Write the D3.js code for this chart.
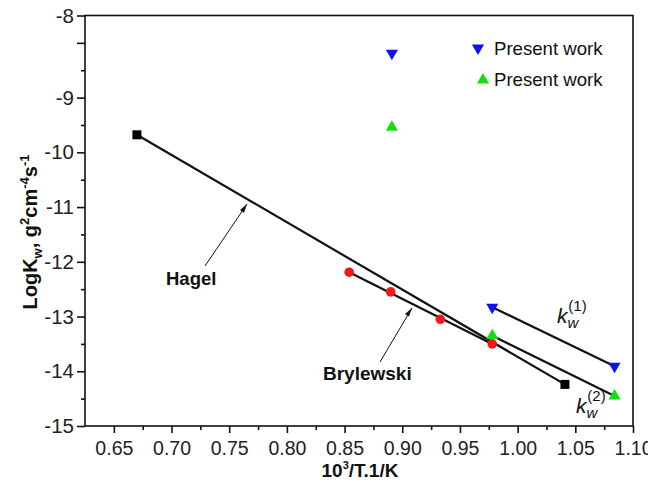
<!DOCTYPE html>
<html>
<head>
<meta charset="utf-8">
<script src="https://cdn.jsdelivr.net/npm/d3@7"></script>
<style>
  html, body { margin: 0; padding: 0; background: #fff; }
  svg { display: block; font-family: "Liberation Sans", Arial, sans-serif; }
</style>
</head>
<body>
<svg id="chart" width="648" height="487"></svg>
<script>
// Hagel (literature) line end points
const hagelX = [0.670, 1.041];
const hagelY = [-9.68, -14.24];

// Brylewski data
const brylX = [0.854, 0.890, 0.933, 0.978];
const brylY = [-12.19, -12.55, -13.05, -13.50];

// Present work, k_w(1) (blue, down triangles)
const k1X = [0.891, 0.978, 1.084];
const k1Y = [-8.19, -12.83, -13.91];

// Present work, k_w(2) (green, up triangles)
const k2X = [0.891, 0.978, 1.084];
const k2Y = [-9.54, -13.35, -14.45];

// points joined by the fitted k_w lines
const k1LineIdx = [1, 2];
const k2LineIdx = [1, 2];

// axis ticks
const xTickValues = [0.65, 0.70, 0.75, 0.80, 0.85, 0.90, 0.95, 1.00, 1.05, 1.10];
const xTickLabels = ["0.65", "0.70", "0.75", "0.80", "0.85", "0.90", "0.95", "1.00", "1.05", "1.10"];
const xMinorValues = [0.675, 0.725, 0.775, 0.825, 0.875, 0.925, 0.975, 1.025, 1.075];
const yTickValues = [-15, -14, -13, -12, -11, -10, -9, -8, -7.5];
const yTickLabels = ["-15", "-14", "-13", "-12", "-11", "-10", "-9", "", "-8"];
const yMinorValues = [-14.5, -13.5, -12.5, -11.5, -10.5, -9.5, -8.5];

const legendLabels = ["Present work", "Present work"];

const svg = d3.select("#chart");
const plotL = 85, plotR = 633, plotT = 15.5, plotB = 426;

const x = d3.scaleLinear().domain([0.625, 1.10]).range([plotL, plotR]);
const y = d3.scaleLinear().domain([-15, -7.5]).range([plotB, plotT]);

// frame
svg.append("rect")
  .attr("x", plotL).attr("y", plotT)
  .attr("width", plotR - plotL).attr("height", plotB - plotT)
  .attr("fill", "none").attr("stroke", "#111").attr("stroke-width", 1.6);

// bottom axis
const xAxis = d3.axisBottom(x).tickValues(xTickValues)
  .tickFormat((d, i) => xTickLabels[i]).tickSize(7).tickPadding(8);
const gx = svg.append("g").attr("transform", `translate(0,${plotB})`).call(xAxis);
gx.select(".domain").remove();
gx.selectAll(".tick line").attr("stroke", "#111").attr("stroke-width", 1.6);
gx.selectAll(".tick text").attr("font-size", 19.5).attr("fill", "#222")
  .attr("font-family", "Liberation Sans, Arial, sans-serif");
const gxm = svg.append("g").attr("transform", `translate(0,${plotB})`)
  .call(d3.axisBottom(x).tickValues(xMinorValues).tickSize(4).tickFormat(""));
gxm.select(".domain").remove();
gxm.selectAll(".tick line").attr("stroke", "#111").attr("stroke-width", 1.6);

// left axis
const yAxis = d3.axisLeft(y).tickValues(yTickValues)
  .tickFormat((d, i) => yTickLabels[i]).tickSize(8).tickPadding(3);
const gy = svg.append("g").attr("transform", `translate(${plotL},0)`).call(yAxis);
gy.select(".domain").remove();
gy.selectAll(".tick line").attr("stroke", "#111").attr("stroke-width", 1.6);
gy.selectAll(".tick text").attr("font-size", 20.5).attr("fill", "#222")
  .attr("font-family", "Liberation Sans, Arial, sans-serif");
const gym = svg.append("g").attr("transform", `translate(${plotL},0)`)
  .call(d3.axisLeft(y).tickValues(yMinorValues).tickSize(4).tickFormat(""));
gym.select(".domain").remove();
gym.selectAll(".tick line").attr("stroke", "#111").attr("stroke-width", 1.6);

// axis titles
const xt = svg.append("text").attr("x", 360).attr("y", 477)
  .attr("text-anchor", "middle").attr("font-size", 19).attr("font-weight", "bold").attr("fill", "#111");
xt.append("tspan").text("10");
xt.append("tspan").attr("font-size", 11).attr("dy", -8).text("3");
xt.append("tspan").attr("dy", 8).text("/T.1/K");

const yt = svg.append("text")
  .attr("transform", "translate(37,232) rotate(-90)")
  .attr("text-anchor", "middle").attr("font-size", 20).attr("font-weight", "bold").attr("fill", "#111");
yt.append("tspan").text("LogK");
yt.append("tspan").attr("font-size", 13).attr("dy", 5).text("w");
yt.append("tspan").attr("dy", -5).text(", g");
yt.append("tspan").attr("font-size", 13).attr("dy", -8).text("2");
yt.append("tspan").attr("dy", 8).text("cm");
yt.append("tspan").attr("font-size", 13).attr("dy", -8).text("-4");
yt.append("tspan").attr("dy", 8).text("s");
yt.append("tspan").attr("font-size", 13).attr("dy", -8).text("-1");

// lines
const line = d3.line().x(d => x(d[0])).y(d => y(d[1]));
const lineStyle = sel => sel.attr("fill", "none").attr("stroke", "#111").attr("stroke-width", 2.2);

svg.append("path").datum(d3.zip(hagelX, hagelY)).attr("d", line).call(lineStyle);
svg.append("path").datum([[brylX[0], brylY[0]], [brylX[brylX.length - 1], brylY[brylY.length - 1]]])
  .attr("d", line).call(lineStyle);
svg.append("path").datum(k1LineIdx.map(i => [k1X[i], k1Y[i]])).attr("d", line).call(lineStyle);
svg.append("path").datum(k2LineIdx.map(i => [k2X[i], k2Y[i]])).attr("d", line).call(lineStyle);

// markers
const sq = 9;
svg.append("g").selectAll("rect").data(d3.zip(hagelX, hagelY)).join("rect")
  .attr("x", d => x(d[0]) - sq / 2).attr("y", d => y(d[1]) - sq / 2)
  .attr("width", sq).attr("height", sq).attr("fill", "#000");

svg.append("g").selectAll("circle").data(d3.zip(brylX, brylY)).join("circle")
  .attr("cx", d => x(d[0])).attr("cy", d => y(d[1])).attr("r", 4.8).attr("fill", "#f01818");

const triUp = d3.symbol().type(d3.symbolTriangle).size(64);
svg.append("g").selectAll("path").data(d3.zip(k2X, k2Y)).join("path")
  .attr("d", triUp).attr("transform", d => `translate(${x(d[0])},${y(d[1])})`)
  .attr("fill", "#10e010");
svg.append("g").selectAll("path").data(d3.zip(k1X, k1Y)).join("path")
  .attr("d", triUp).attr("transform", d => `translate(${x(d[0])},${y(d[1])}) rotate(180)`)
  .attr("fill", "#1010f0");

// legend
const leg = svg.append("g");
leg.append("path").attr("d", triUp).attr("transform", "translate(478,48) rotate(180)").attr("fill", "#1010f0");
leg.append("path").attr("d", triUp).attr("transform", "translate(483,80)").attr("fill", "#10e010");
leg.selectAll("text").data(legendLabels).join("text")
  .attr("x", 494).attr("y", (d, i) => 54.5 + i * 31)
  .attr("font-size", 18.6).attr("fill", "#111").text(d => d);

// annotations with pointer lines
svg.append("line").attr("x1", 205).attr("y1", 266).attr("x2", 247).attr("y2", 204)
  .attr("stroke", "#111").attr("stroke-width", 1);
svg.append("path").attr("d", "M247,204 L240,210 L244,213 Z").attr("fill", "#111");
svg.append("text").attr("x", 166).attr("y", 285).attr("font-size", 18.5)
  .attr("font-weight", "bold").attr("fill", "#111").text("Hagel");

svg.append("line").attr("x1", 380).attr("y1", 362).attr("x2", 412).attr("y2", 308)
  .attr("stroke", "#111").attr("stroke-width", 1);
svg.append("path").attr("d", "M412,308 L405,314 L409,316.5 Z").attr("fill", "#111");
svg.append("text").attr("x", 323).attr("y", 380).attr("font-size", 19)
  .attr("font-weight", "bold").attr("fill", "#111").text("Brylewski");

// k_w labels
function kLabel(px, py, sup) {
  const t = svg.append("text").attr("x", px).attr("y", py).attr("fill", "#111")
    .attr("font-family", "Liberation Sans, Arial, sans-serif");
  t.append("tspan").attr("font-style", "italic").attr("font-size", 21).text("k");
  t.append("tspan").attr("font-style", "italic").attr("font-size", 15).attr("dy", 5).text("w");
  t.append("tspan").attr("font-size", 15).attr("dx", -10).attr("dy", -17).text(sup);
}
kLabel(557, 323, "(1)");
kLabel(576, 413, "(2)");
</script>
</body>
</html>
